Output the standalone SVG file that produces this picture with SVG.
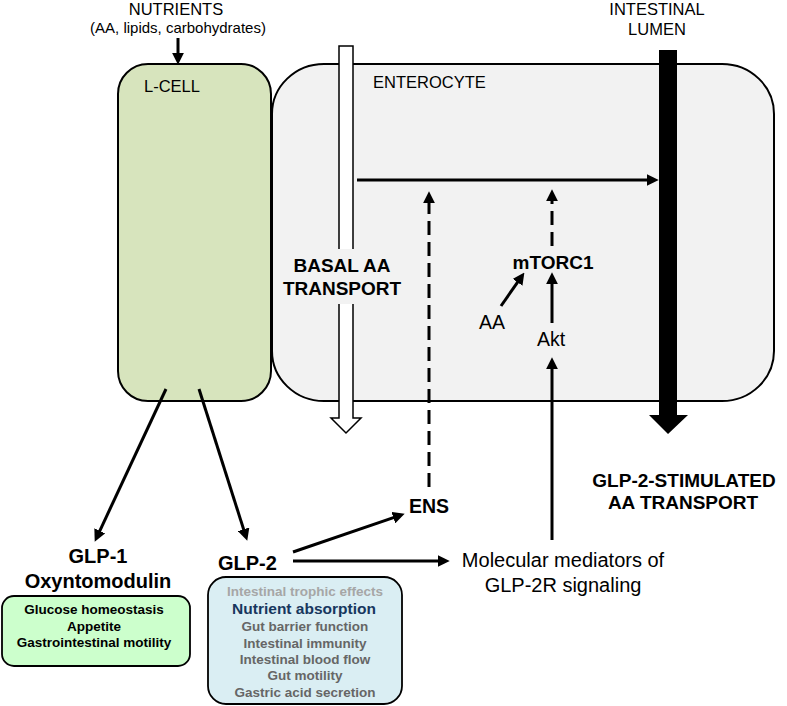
<svg xmlns="http://www.w3.org/2000/svg" width="787" height="706" viewBox="0 0 787 706">
<defs>
<style>
text{font-family:"Liberation Sans",Arial,sans-serif;fill:#000}
.lbl{font-size:16.5px}
.b{font-weight:bold}
.c{text-anchor:middle}
.con{stroke:#000;stroke-width:3;fill:none}
.dash{stroke-dasharray:14 7}
.gray1{fill:#a6a6a6}
.gray2{fill:#666666}
</style>
<marker id="ah" markerUnits="userSpaceOnUse" markerWidth="12" markerHeight="12" refX="3" refY="5.5" orient="auto" viewBox="0 0 11 11">
<path d="M0,0 L11,5.5 L0,11 z" fill="#000"/>
</marker>
</defs>
<rect width="787" height="706" fill="#fff"/>

<g id="lcell">
<rect x="118" y="64" width="153" height="337" rx="30" ry="30" fill="#d7e4bd" stroke="#000" stroke-width="2"/>
<text class="lbl" x="144" y="92">L-CELL</text>
</g>

<g id="enterocyte">
<rect x="272" y="64" width="502" height="337" rx="52" ry="50" fill="#f2f2f2" stroke="#000" stroke-width="2"/>
<text class="lbl" x="373" y="88">ENTEROCYTE</text>
</g>

<g id="basal">
<path d="M339,46 L353,46 L353,418 L361,418 L346,433 L331,418 L339,418 Z" fill="#fff" stroke="#000" stroke-width="1.5"/>
<rect x="284" y="249" width="122" height="55" fill="#f2f2f2"/>
<text class="b c" x="342" y="272" font-size="19">BASAL AA</text>
<text class="b c" x="342" y="295" font-size="19">TRANSPORT</text>
</g>

<g id="lumen">
<path d="M659,50 L677,50 L677,415 L688,415 L668,434 L649,415 L659,415 Z" fill="#000"/>
<text class="lbl c" x="657" y="15">INTESTINAL</text>
<text class="lbl c" x="657" y="35">LUMEN</text>
</g>

<g id="nutrients">
<text class="lbl c" x="176" y="15">NUTRIENTS</text>
<text class="c" x="178" y="33" font-size="15">(AA, lipids, carbohydrates)</text>
</g>

<g id="stimulated">
<text class="b c" x="684" y="487" font-size="19">GLP-2-STIMULATED</text>
<text class="b c" x="683" y="509" font-size="19">AA TRANSPORT</text>
</g>

<g id="mtorc1"><text class="b c" x="553" y="269" font-size="19">mTORC1</text></g>
<g id="aa"><text class="c" x="492" y="329" font-size="19.5">AA</text></g>
<g id="akt"><text class="c" x="551" y="346" font-size="19.5">Akt</text></g>
<g id="ens"><text class="b" x="409" y="513" font-size="19.5">ENS</text></g>
<g id="molecular">
<text class="c" x="563" y="567" font-size="20">Molecular mediators of</text>
<text class="c" x="563" y="592" font-size="20">GLP-2R signaling</text>
</g>

<g id="glp1">
<text class="b c" x="98" y="563" font-size="20">GLP-1</text>
<text class="b c" x="98" y="588" font-size="20">Oxyntomodulin</text>
<rect x="2" y="596" width="188" height="70" rx="12" ry="12" fill="#ccffcc" stroke="#000" stroke-width="1.8"/>
<text class="b c" x="94" y="614" font-size="13.5">Glucose homeostasis</text>
<text class="b c" x="94" y="631" font-size="13.5">Appetite</text>
<text class="b c" x="94" y="647" font-size="13.5">Gastrointestinal motility</text>
</g>

<g id="glp2">
<text class="b" x="218" y="570" font-size="20">GLP-2</text>
<rect x="208" y="577" width="194" height="127" rx="18" ry="18" fill="#daeef3" stroke="#000" stroke-width="1.8"/>
<text class="b c gray1" x="305" y="596" font-size="13.5">Intestinal trophic effects</text>
<text class="b c" x="304" y="614" font-size="15.5" style="fill:#17375e">Nutrient absorption</text>
<text class="b c gray2" x="305" y="631" font-size="13.5">Gut barrier function</text>
<text class="b c gray2" x="305" y="648" font-size="13.5">Intestinal immunity</text>
<text class="b c gray2" x="305" y="664" font-size="13.5">Intestinal blood flow</text>
<text class="b c gray2" x="305" y="680" font-size="13.5">Gut motility</text>
<text class="b c gray2" x="305" y="697" font-size="13.5">Gastric acid secretion</text>
</g>

<g id="connectors">
<line class="con" x1="178" y1="38" x2="178" y2="56" marker-end="url(#ah)"/>
<line class="con" x1="357" y1="180" x2="650" y2="180" stroke-width="2.5" marker-end="url(#ah)"/>
<line class="con" x1="166" y1="389" x2="98.4" y2="533.8" marker-end="url(#ah)"/>
<line class="con" x1="199" y1="389" x2="244.6" y2="532.4" marker-end="url(#ah)"/>
<line class="con" x1="293" y1="552" x2="396.4" y2="516.6" marker-end="url(#ah)"/>
<line class="con" x1="293" y1="561" x2="441" y2="561" marker-end="url(#ah)"/>
<line class="con" x1="552" y1="540" x2="552" y2="366" marker-end="url(#ah)"/>
<line class="con" x1="552" y1="323" x2="552" y2="281" marker-end="url(#ah)"/>
<line class="con" x1="501" y1="306" x2="519.4" y2="279.6" marker-end="url(#ah)"/>
<line class="con dash" x1="429" y1="487" x2="429" y2="200" marker-end="url(#ah)"/>
<line class="con dash" x1="552" y1="246" x2="552" y2="198" marker-end="url(#ah)"/>
</g>
</svg>
